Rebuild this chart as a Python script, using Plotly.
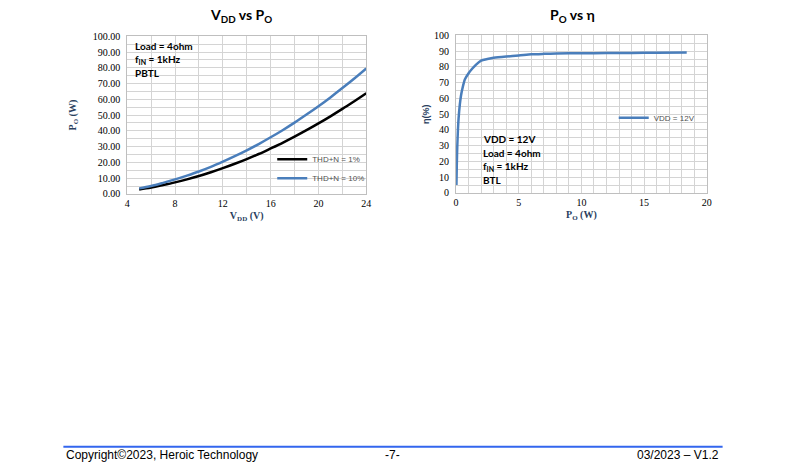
import plotly.graph_objects as go

# Left chart: VDD vs PO
vdd = [5, 6, 7, 8, 9, 10, 11, 12, 13, 14, 15, 16, 17, 18, 19, 20, 21, 22, 23, 24]
po_thd1 = [2.8, 4.0, 5.6, 7.3, 9.2, 11.3, 13.7, 16.3, 19.1, 22.1, 25.3, 28.8, 32.4, 36.3, 40.4, 44.7, 49.2, 53.9, 58.8, 63.8]
po_thd10 = [3.5, 5.0, 7.0, 9.2, 11.6, 14.2, 17.1, 20.4, 23.9, 27.6, 31.6, 35.9, 40.4, 45.2, 50.3, 55.6, 61.2, 67.1, 73.2, 79.6]

# Right chart: PO vs efficiency
po_eff = [0.03, 0.06, 0.1, 0.15, 0.2, 0.3, 0.4, 0.5, 0.7, 1.0, 1.3, 1.6, 2.0, 2.5, 3.0, 4.0, 5.0, 6.0, 7.0, 8.0, 10.0, 12.0, 14.0, 16.0, 18.4]
eff = [5, 18, 30, 40, 47, 56, 62, 66, 72, 76, 79, 81.5, 84, 85, 85.8, 86.6, 87.2, 88.0, 88.3, 88.5, 88.7, 88.8, 88.9, 89.0, 89.2]

BLUE = "#4a7ebb"
GRID = "#d4d4d4"
W, H = 787, 468
VS = 0.987  # vertical scale of the photographed page

def px(x):
    return x / W

def py(y):
    return 1 - (y / VS) / H

fig = go.Figure()

fig.add_trace(go.Scatter(x=vdd, y=po_thd1, mode="lines", name="THD+N = 1%",
                         line=dict(color="#000000", width=2.5, shape="spline"),
                         xaxis="x", yaxis="y", legend="legend"))
fig.add_trace(go.Scatter(x=vdd, y=po_thd10, mode="lines", name="THD+N = 10%",
                         line=dict(color=BLUE, width=2.5, shape="spline"),
                         xaxis="x", yaxis="y", legend="legend"))
fig.add_trace(go.Scatter(x=po_eff, y=eff, mode="lines", name="VDD = 12V",
                         line=dict(color=BLUE, width=2.5, shape="spline", smoothing=0.6),
                         xaxis="x2", yaxis="y2", legend="legend2"))

serif = "Liberation Serif"
tickfont = dict(family=serif, size=10, color="#000000")

axis_common = dict(showgrid=True, gridcolor=GRID, gridwidth=1, showline=True,
                   linecolor="#bfbfbf", mirror=True, zeroline=False, ticks="",
                   tickfont=tickfont)

fig.update_layout(
    width=W, height=H, margin=dict(l=0, r=0, t=0, b=0),
    paper_bgcolor="white", plot_bgcolor="white",
    xaxis=dict(domain=[px(125.5), px(367)], range=[4, 24], dtick=4, tick0=4,
               minor=dict(dtick=2, showgrid=True, gridcolor=GRID), anchor="y",
               title=dict(text="<b>V<sub>DD</sub> (V)</b>", font=dict(family=serif, size=10), standoff=4),
               **axis_common),
    yaxis=dict(domain=[py(190.5), py(31.5)], range=[0, 100], dtick=10, tickformat=".2f",
               minor=dict(dtick=5, showgrid=True, gridcolor=GRID), anchor="x",
               ticklabelstandoff=4,
               title=dict(text="<b>P<sub>O</sub> (W)</b>", font=dict(family=serif, size=10), standoff=14),
               **axis_common),
    xaxis2=dict(domain=[px(457.7), px(711)], range=[0, 20], dtick=5,
                minor=dict(dtick=1, showgrid=True, gridcolor=GRID), anchor="y2",
                title=dict(text="<b>P<sub>O</sub> (W)</b>", font=dict(family=serif, size=10), standoff=4),
                **axis_common),
    yaxis2=dict(domain=[py(189.5), py(30.7)], range=[0, 100], dtick=10,
                minor=dict(dtick=5, showgrid=True, gridcolor=GRID), anchor="x2",
                ticklabelstandoff=4,
                title=dict(text="<b>η(%)</b>", font=dict(family="Liberation Sans", size=9), standoff=2),
                **axis_common),
    legend=dict(x=px(272), y=py(141), xanchor="left", yanchor="top",
                bgcolor="rgba(0,0,0,0)", itemwidth=30, tracegroupgap=2,
                font=dict(family="Liberation Sans", size=8, color="#505050")),
    legend2=dict(x=px(617), y=py(99), xanchor="left", yanchor="top",
                 bgcolor="rgba(0,0,0,0)", itemwidth=30,
                 font=dict(family="Liberation Sans", size=8, color="#505050")),
    showlegend=True,
)

ann_font = dict(family="Lato", size=10, color="#000000")
annotations = [
    dict(x=px(240), y=py(11), text="<b>V<sub>DD</sub> vs P<sub>O</sub></b>",
         font=dict(family="Lato", size=14, color="#000000")),
    dict(x=px(575), y=py(11), text="<b>P<sub>O</sub> vs η</b>",
         font=dict(family="Lato", size=14, color="#000000")),
    dict(x=px(131), y=py(41), text="<b>Load = 4ohm</b>", xanchor="left", font=ann_font),
    dict(x=px(131), y=py(55), text="<b>f<sub>IN</sub> = 1kHz</b>", xanchor="left", font=ann_font),
    dict(x=px(131), y=py(69), text="<b>PBTL</b>", xanchor="left", font=ann_font),
    dict(x=px(483), y=py(135), text="<b>VDD = 12V</b>", xanchor="left", font=ann_font),
    dict(x=px(483), y=py(149), text="<b>Load = 4ohm</b>", xanchor="left", font=ann_font),
    dict(x=px(483), y=py(163), text="<b>f<sub>IN</sub> = 1kHz</b>", xanchor="left", font=ann_font),
    dict(x=px(483), y=py(177), text="<b>BTL</b>", xanchor="left", font=ann_font),
    dict(x=px(62), y=py(454), text="Copyright©2023, Heroic Technology", xanchor="left",
         font=dict(family="Liberation Sans", size=12, color="#000000")),
    dict(x=px(393), y=py(454), text="-7-",
         font=dict(family="Liberation Sans", size=12, color="#000000")),
    dict(x=px(725), y=py(454), text="03/2023 – V1.2", xanchor="right",
         font=dict(family="Liberation Sans", size=12, color="#000000")),
]
for a in annotations:
    a.setdefault("xanchor", "center")
    a.update(xref="paper", yref="paper", yanchor="middle", showarrow=False)
fig.update_layout(annotations=annotations)

fig.add_shape(type="line", xref="paper", yref="paper", x0=px(61), x1=px(727),
              y0=py(445.5), y1=py(445.5), line=dict(color="#3366ee", width=2))

post = (
    "var d=document.documentElement,b=document.body;"
    "d.style.margin='0';d.style.padding='0';d.style.overflow='hidden';"
    "b.style.margin='0';b.style.padding='0';b.style.overflow='hidden';"
)
fig.write_html("out.html", config={"displayModeBar": False}, post_script=post)
